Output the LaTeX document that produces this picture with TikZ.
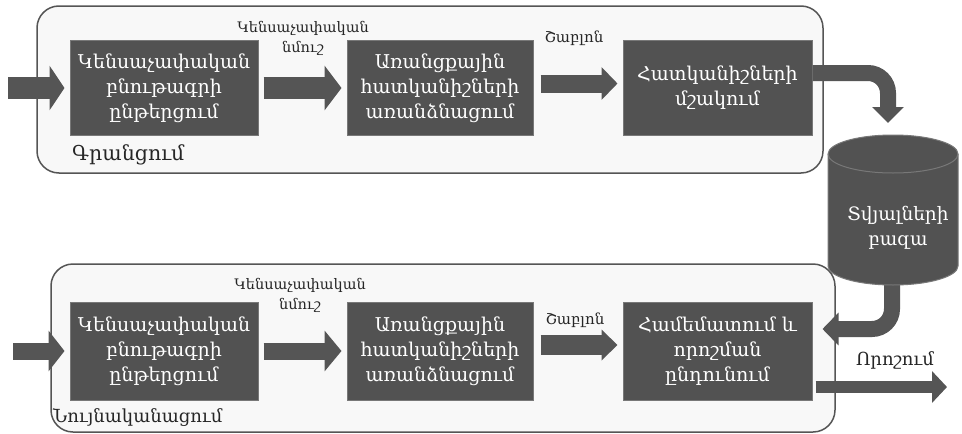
\documentclass[tikz,border=0pt]{standalone}
\usepackage{fontspec}
\newfontfamily\arm{DejaVu Serif}
\usetikzlibrary{arrows.meta}
\definecolor{boxgray}{RGB}{82,82,82}
\definecolor{boxedge}{RGB}{120,120,120}
\definecolor{contfill}{RGB}{248,248,248}
\definecolor{contedge}{RGB}{85,85,85}
\definecolor{arrgray}{RGB}{85,85,85}
\tikzset{
  stagebox/.style={draw=boxedge, line width=1pt, fill=boxgray, text=white, align=center,
    font=\arm\fontsize{19}{25}\selectfont, inner sep=2pt},
  lbl/.style={align=center, text=black!85, inner sep=0pt},
}
\begin{document}
\begin{tikzpicture}[x=1pt,y=-1pt]
\useasboundingbox (0,0) rectangle (962,434);
\fill[white] (0,0) rectangle (962,434);
% containers (fill)
\fill[contfill, rounded corners=22pt] (37,6) rectangle (823,173);
\fill[contfill, rounded corners=22pt] (51,264) rectangle (835,432);
% boxes top
\node[stagebox, minimum width=188pt, minimum height=95pt] (t1) at (164,88) {Կենսաչափական\\բնութագրի\\ընթերցում};
\node[stagebox, minimum width=186pt, minimum height=95pt] (t2) at (440,88) {Առանցքային\\հատկանիշների\\առանձնացում};
\node[stagebox, minimum width=189pt, minimum height=95pt] (t3) at (717.5,88) {Հատկանիշների\\մշակում};
% boxes bottom
\node[stagebox, minimum width=188pt, minimum height=98pt] (u1) at (164,351) {Կենսաչափական\\բնութագրի\\ընթերցում};
\node[stagebox, minimum width=186pt, minimum height=98pt] (u2) at (440,351) {Առանցքային\\հատկանիշների\\առանձնացում};
\node[stagebox, minimum width=189pt, minimum height=98pt] (u3) at (717.5,351) {Համեմատում և\\որոշման\\ընդունում};
% free ends
\coordinate (tin) at (8,88);
\coordinate (uin) at (13,351);
\coordinate (dbin) at (888,135);
\coordinate (dbout) at (892,270);
\coordinate (out) at (947,387);
% straight block arrows
\draw[draw=arrgray, line width=22pt, -{Triangle[length=15pt, width=44pt]}, shorten >=5pt] (tin) -- (t1.west);
\draw[draw=arrgray, line width=22pt, -{Triangle[length=17pt, width=44pt]}, shorten <=5pt, shorten >=5pt] (t1.east) -- (t2.west);
\draw[draw=arrgray, line width=18pt, -{Triangle[length=16pt, width=32pt]}, shorten <=7pt, shorten >=5pt] ([yshift=4.5pt]t2.east) -- ([yshift=4.5pt]t3.west);
\draw[draw=arrgray, line width=17pt, -{Triangle[length=16pt, width=40pt]}, shorten >=5pt] (uin) -- (u1.west);
\draw[draw=arrgray, line width=17pt, -{Triangle[length=17pt, width=40pt]}, shorten <=5pt, shorten >=5pt] (u1.east) -- (u2.west);
\draw[draw=arrgray, line width=20pt, -{Triangle[length=16pt, width=30pt]}, shorten <=7pt, shorten >=5pt] ([yshift=6pt]u2.east) -- ([yshift=6pt]u3.west);
% curved arrows
\draw[draw=arrgray, line width=16pt, rounded corners=20pt, -{Triangle[length=16pt, width=31pt]}, shorten >=12pt] ([yshift=15pt]t3.east) -| (dbin);
\draw[draw=arrgray, line width=16pt, rounded corners=20pt, -{Triangle[length=16pt, width=32pt]}, shorten >=10pt] (dbout) |- ([yshift=22pt]u3.east);
\draw[draw=arrgray, line width=12pt, -{Triangle[length=15pt, width=31pt]}, shorten <=3pt] ([yshift=-36pt]u3.east) -- (out);
% container borders
\draw[contedge, line width=1.5pt, rounded corners=22pt] (37,6) rectangle (823,173);
\draw[contedge, line width=1.5pt, rounded corners=22pt] (51,264) rectangle (835,432);
% database cylinder
\fill[boxgray, draw=boxedge, line width=1pt] (828,154) -- (828,266) arc[start angle=180, end angle=0, x radius=65, y radius=19] -- (958,154) arc[start angle=0, end angle=-180, x radius=65, y radius=19] -- cycle;
\draw[boxedge, line width=1pt] (958,154) arc[start angle=0, end angle=180, x radius=65, y radius=19];
\node[lbl, text=white, font=\arm\fontsize{18.5}{25}\selectfont] (db) at (898,228) {Տվյալների\\բազա};
% labels
\node[lbl, font=\arm\fontsize{14.5}{20}\selectfont] (s1) at (303,38) {Կենսաչափական\\նմուշ};
\node[lbl, font=\arm\fontsize{14.5}{20}\selectfont] (s2) at (300,295) {Կենսաչափական\\նմուշ};
\node[lbl, font=\arm\fontsize{15}{20}\selectfont] (w1) at (574,38) {Շաբլոն};
\node[lbl, font=\arm\fontsize{15}{20}\selectfont] (w2) at (575,320) {Շաբլոն};
\node[lbl, font=\arm\fontsize{20.5}{22}\selectfont, anchor=west] (reg) at (72,155) {Գրանցում};
\node[lbl, font=\arm\fontsize{18}{20}\selectfont, anchor=west] (ver) at (53,418) {Նույնականացում};
\node[lbl, font=\arm\fontsize{18}{20}\selectfont] (dec) at (895,360) {Որոշում};
\end{tikzpicture}
\end{document}
